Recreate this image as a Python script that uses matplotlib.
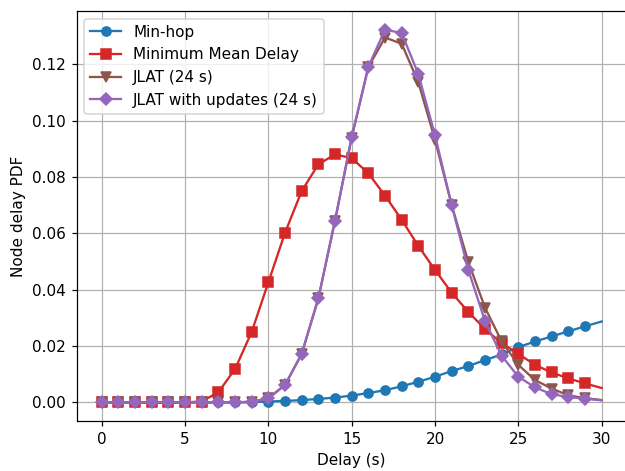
import numpy as np
import matplotlib
matplotlib.use('Agg')
import matplotlib.pyplot as plt

# delay bins (s); markers on 0..29, line runs to 30
delay = np.arange(0, 31)

min_hop = [0, 0, 0, 0, 0, 0, 0, 0, 0, 0.0001, 0.0003, 0.0005, 0.0008, 0.0012,
           0.0017, 0.0024, 0.0033, 0.0043, 0.0057, 0.0073, 0.0091, 0.0111,
           0.0129, 0.0150, 0.0170, 0.0196, 0.0216, 0.0234, 0.0252, 0.0270, 0.0287]

min_mean_delay = [0, 0, 0, 0, 0, 0, 0.0003, 0.0036, 0.0118, 0.0250, 0.0426,
                  0.0602, 0.0750, 0.0845, 0.0880, 0.0867, 0.0813, 0.0734,
                  0.0648, 0.0555, 0.0470, 0.0389, 0.0321, 0.0260, 0.0210,
                  0.0172, 0.0133, 0.0106, 0.0085, 0.0067, 0.0051]

jlat = [0, 0, 0, 0, 0, 0, 0, 0, 0, 0.0002, 0.0015, 0.0062, 0.0172, 0.0369,
        0.0645, 0.0940, 0.1190, 0.1295, 0.1273, 0.1136, 0.0932, 0.0700,
        0.0498, 0.0336, 0.0216, 0.0133, 0.0079, 0.0049, 0.0025, 0.0015, 0.0008]

jlat_updates = [0, 0, 0, 0, 0, 0, 0, 0, 0, 0.0002, 0.0014, 0.0061, 0.0172,
                0.0369, 0.0645, 0.0942, 0.1192, 0.1323, 0.1311, 0.1165,
                0.0948, 0.0700, 0.0470, 0.0288, 0.0165, 0.0091, 0.0053,
                0.0029, 0.0019, 0.0013, 0.0007]

marks = list(range(30))

fig, ax = plt.subplots(figsize=(625 / 110, 471 / 110), dpi=110)
fig.subplots_adjust(left=0.1227, right=1.0027, bottom=0.1062, top=0.9766)

ax.plot(delay, min_hop, marker='o', color='tab:blue', markevery=marks, label='Min-hop')
ax.plot(delay, min_mean_delay, marker='s', color='tab:red', markevery=marks,
        label='Minimum Mean Delay')
ax.plot(delay, jlat, marker='v', color='tab:brown', markevery=marks, label='JLAT (24 s)')
ax.plot(delay, jlat_updates, marker='D', color='tab:purple', markevery=marks,
        label='JLAT with updates (24 s)')

ax.set_xlabel('Delay (s)')
ax.set_ylabel('Node delay PDF')
ax.set_xticks([0, 5, 10, 15, 20, 25, 30])
ax.grid(True)
ax.legend(loc='upper left')

fig.savefig('out.png', dpi=110)
